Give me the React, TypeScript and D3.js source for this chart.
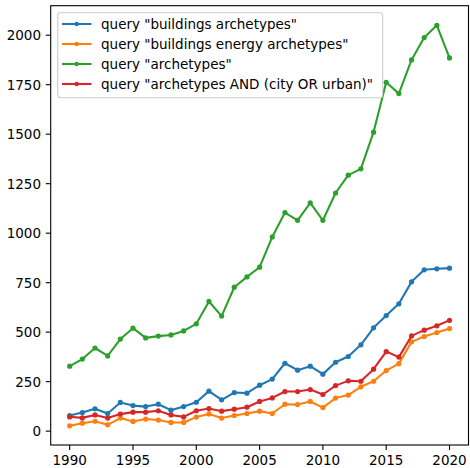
import React from "react";
import * as d3 from "d3";

const years = d3.range(1990, 2021);
const seriesNames = [
  'query "buildings archetypes"',
  'query "buildings energy archetypes"',
  'query "archetypes"',
  'query "archetypes AND (city OR urban)"',
];
const colors = ["#1f77b4", "#ff7f0e", "#2ca02c", "#d62728"];

const buildingsArchetypes = [79, 94, 113, 89, 145, 129, 124, 136, 106, 124, 146, 202, 158, 195, 192, 232, 263, 343, 308, 328, 288, 348, 377, 436, 522, 584, 643, 754, 815, 820, 823];
const buildingsEnergyArchetypes = [27, 40, 50, 32, 66, 49, 61, 56, 44, 44, 71, 87, 66, 79, 89, 101, 89, 136, 134, 150, 119, 167, 182, 224, 252, 306, 341, 451, 478, 498, 518];
const archetypes = [328, 364, 420, 380, 465, 520, 471, 480, 486, 506, 542, 655, 581, 727, 779, 828, 981, 1104, 1065, 1153, 1065, 1203, 1293, 1325, 1510, 1762, 1705, 1875, 1988, 2050, 1885];
const archetypesCityUrban = [72, 67, 82, 66, 86, 96, 96, 103, 82, 72, 103, 114, 101, 111, 121, 150, 168, 200, 200, 210, 185, 230, 254, 252, 313, 402, 374, 481, 510, 532, 560];

const allSeries = [buildingsArchetypes, buildingsEnergyArchetypes, archetypes, archetypesCityUrban];
const xTicks = [1990, 1995, 2000, 2005, 2010, 2015, 2020];
const yTicks = [0, 250, 500, 750, 1000, 1250, 1500, 1750, 2000];

export default function App() {
  const W = 470, H = 468;
  const left = 50.7, right = 468.5, top = 5.7, bottom = 445;
  const x = d3.scaleLinear().domain([1988.5, 2021.5]).range([left, right]);
  const y = d3.scaleLinear().domain([-70, 2149]).range([bottom, top]);
  const line = d3.line<number>().x((_, i) => x(years[i])).y((d) => y(d));
  const font = "DejaVu Sans, sans-serif";
  const fs = 13.5;

  return (
    <svg width={W} height={H} style={{ position: "absolute", left: 0, top: 0 }} fontFamily={font}>
      <rect x={0} y={0} width={W} height={H} fill="white" />
      {allSeries.map((s, si) => (
        <g key={si}>
          <path d={line(s) || ""} fill="none" stroke={colors[si]} strokeWidth={2.08} strokeLinejoin="round" strokeLinecap="square" />
          {s.map((v, i) => (
            <circle key={i} cx={x(years[i])} cy={y(v)} r={2.6} fill={colors[si]} />
          ))}
        </g>
      ))}
      <rect x={left} y={top} width={right - left} height={bottom - top} fill="none" stroke="black" strokeWidth={1.1} />
      {xTicks.map((t) => (
        <g key={t}>
          <line x1={x(t)} x2={x(t)} y1={bottom} y2={bottom + 4.9} stroke="black" strokeWidth={1.1} />
          <text x={x(t)} y={bottom + 9.7 + fs * 0.76} textAnchor="middle" fontSize={fs} fill="black">{t}</text>
        </g>
      ))}
      {yTicks.map((t) => (
        <g key={t}>
          <line x1={left - 4.9} x2={left} y1={y(t)} y2={y(t)} stroke="black" strokeWidth={1.1} />
          <text x={left - 9.7} y={y(t)} dy="0.36em" textAnchor="end" fontSize={fs} fill="black">{t}</text>
        </g>
      ))}
      <g>
        <rect x={57.7} y={12.7} width={325} height={85} rx={3} fill="white" fillOpacity={0.8} stroke="#cccccc" strokeWidth={1.1} />
        {seriesNames.map((n, i) => {
          const ly = 24 + i * 20;
          return (
            <g key={i}>
              <line x1={62} x2={91.5} y1={ly} y2={ly} stroke={colors[i]} strokeWidth={2.08} />
              <circle cx={76.7} cy={ly} r={2.2} fill={colors[i]} />
              <text x={101} y={ly} dy="0.36em" fontSize={fs} fill="black">{n}</text>
            </g>
          );
        })}
      </g>
    </svg>
  );
}
